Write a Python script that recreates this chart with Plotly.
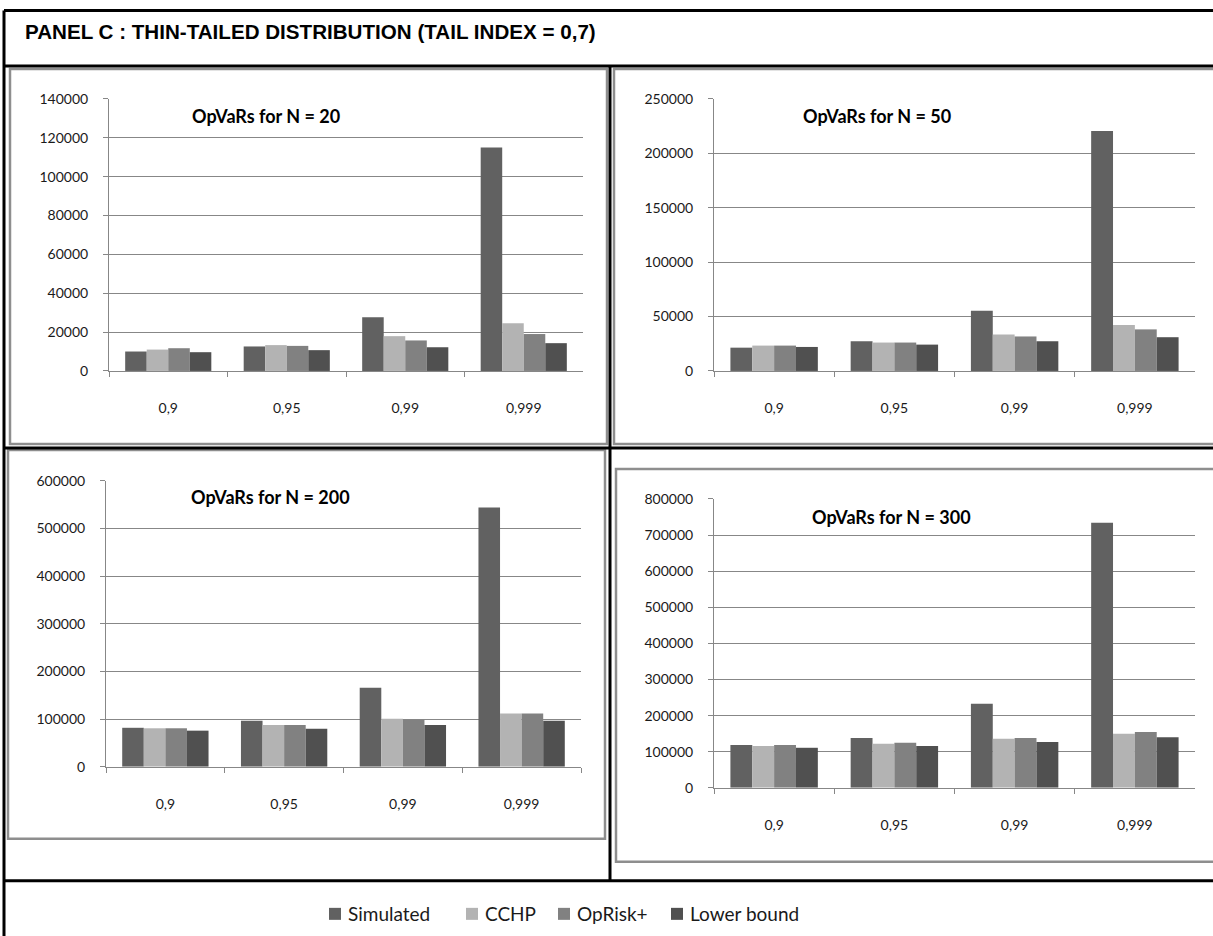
import plotly.graph_objects as go

# Confidence levels on the category axis
levels = ["0,9", "0,95", "0,99", "0,999"]

# OpVaR estimates per method, one list per sample size N
sim_20 = [10000, 12600, 27600, 115000]
cchp_20 = [11000, 13300, 17900, 24500]
oprisk_20 = [11700, 12900, 15700, 19000]
lower_20 = [9650, 10700, 12200, 14300]

sim_50 = [21400, 27300, 55300, 220500]
cchp_50 = [23300, 26100, 33500, 42200]
oprisk_50 = [23300, 26100, 31700, 38200]
lower_50 = [22050, 24200, 27300, 31000]

sim_200 = [82000, 97000, 166000, 544000]
cchp_200 = [81000, 88000, 101000, 112000]
oprisk_200 = [81000, 88000, 99000, 112000]
lower_200 = [76000, 80000, 88000, 97000]

sim_300 = [119000, 138000, 233000, 734000]
cchp_300 = [116000, 122000, 136000, 150000]
oprisk_300 = [119000, 125000, 138000, 155000]
lower_300 = [111000, 116000, 127000, 140000]

methods = ["Simulated", "CCHP", "OpRisk+", "Lower bound"]
colors = ["#616161", "#b3b3b3", "#818181", "#505050"]

W, H = 1213, 936


def px(x):
    return x / W


def py(y):
    # page position (px from top) -> paper fraction, allowing for the 8px page offset
    return 1 - ((y - 8) / 0.982) / H


panels = [
    # (series, title, y max, y step, x px range, y px range, title centre px)
    ([sim_20, cchp_20, oprisk_20, lower_20], "OpVaRs for N = 20", 140000, 20000,
     (109, 583), (98, 370), (266, 115)),
    ([sim_50, cchp_50, oprisk_50, lower_50], "OpVaRs for N = 50", 250000, 50000,
     (714, 1195), (98, 370), (877, 115)),
    ([sim_200, cchp_200, oprisk_200, lower_200], "OpVaRs for N = 200", 600000, 100000,
     (106, 581), (480, 766), (270, 496)),
    ([sim_300, cchp_300, oprisk_300, lower_300], "OpVaRs for N = 300", 800000, 100000,
     (714, 1195), (498, 787), (892, 516)),
]

fig = go.Figure()
grid = "#878787"
tick_font = dict(family="Lato, Calibri, sans-serif", size=14, color="#1a1a1a")

annotations = []
for i, (series, title, ymax, step, (x0, x1), (y0, y1), (tx, ty)) in enumerate(panels):
    n = i + 1
    xa = "x" if n == 1 else f"x{n}"
    ya = "y" if n == 1 else f"y{n}"
    for name, vals, col in zip(methods, series, colors):
        fig.add_trace(go.Bar(
            x=levels, y=vals, name=name, marker=dict(color=col, line=dict(width=0)),
            xaxis=xa, yaxis=ya, showlegend=False,
        ))
    xkey = "xaxis" if n == 1 else f"xaxis{n}"
    ykey = "yaxis" if n == 1 else f"yaxis{n}"
    fig.layout[xkey] = dict(
        domain=[px(x0), px(x1)], anchor=ya, type="category",
        showline=True, linecolor=grid, linewidth=1,
        ticks="outside", tickson="boundaries", ticklen=5, tickcolor=grid,
        showgrid=False, tickfont=tick_font, ticklabelstandoff=24,
        fixedrange=True,
    )
    fig.layout[ykey] = dict(
        domain=[py(y1), py(y0)], anchor=xa, range=[0, ymax], dtick=step,
        tickformat="d", showline=True, linecolor=grid, linewidth=1,
        ticks="outside", ticklen=5, tickcolor=grid,
        showgrid=True, gridcolor=grid, gridwidth=1, zeroline=False,
        tickfont=tick_font, ticklabelstandoff=12, fixedrange=True,
    )
    annotations.append(dict(
        text=f"<b>{title}</b>", x=px(tx), y=py(ty), xref="paper", yref="paper",
        xanchor="center", yanchor="middle", showarrow=False,
        font=dict(family="Lato, Calibri, sans-serif", size=18, color="#000000"),
    ))

annotations.append(dict(
    text="<b>PANEL C : THIN-TAILED DISTRIBUTION (TAIL INDEX = 0,7)</b>",
    x=px(23), y=py(31), xref="paper", yref="paper", xanchor="left", yanchor="middle",
    showarrow=False,
    font=dict(family="Liberation Sans, Arial, sans-serif", size=20.6, color="#000000"),
))

shapes = []
# Grey frames around each chart
frame = dict(type="rect", xref="paper", yref="paper",
             line=dict(color="#8e8e8e", width=2.5), fillcolor="rgba(0,0,0,0)")
for (a, b, c, d) in [(10, 68, 607, 443), (614, 68, 1225, 443),
                     (8, 449, 605, 838), (616, 468, 1225, 861)]:
    shapes.append(dict(frame, x0=px(a), x1=px(c), y0=py(d), y1=py(b)))

# Black table rules
black = dict(type="line", xref="paper", yref="paper", line=dict(color="#000000", width=3))
for (a, b, c, d) in [(4, 9.5, 1213, 9.5), (4, 9.5, 4, 940), (4, 65, 1213, 65),
                     (610, 65, 610, 880), (4, 447, 1213, 447), (4, 880, 1213, 880)]:
    shapes.append(dict(black, x0=px(a), y0=py(b), x1=px(c), y1=py(d)))

# Legend row
leg_items = [(329, 346), (466, 483), (558, 575), (671, 688)]
for (sx, tx), name, col in zip(leg_items, methods, colors):
    shapes.append(dict(type="rect", xref="paper", yref="paper",
                       x0=px(sx), x1=px(sx + 12), y0=py(919), y1=py(907),
                       line=dict(width=0), fillcolor=col))
    annotations.append(dict(
        text=name, x=px(tx), y=py(913), xref="paper", yref="paper",
        xanchor="left", yanchor="middle", showarrow=False,
        font=dict(family="Lato, Calibri, sans-serif", size=19, color="#1a1a1a"),
    ))

fig.update_layout(
    width=W, height=H, margin=dict(l=0, r=0, t=0, b=0),
    paper_bgcolor="#ffffff", plot_bgcolor="#ffffff",
    barmode="group", bargap=0.273, bargroupgap=0,
    showlegend=False, shapes=shapes, annotations=annotations,
)

fig.write_html("out.html")
